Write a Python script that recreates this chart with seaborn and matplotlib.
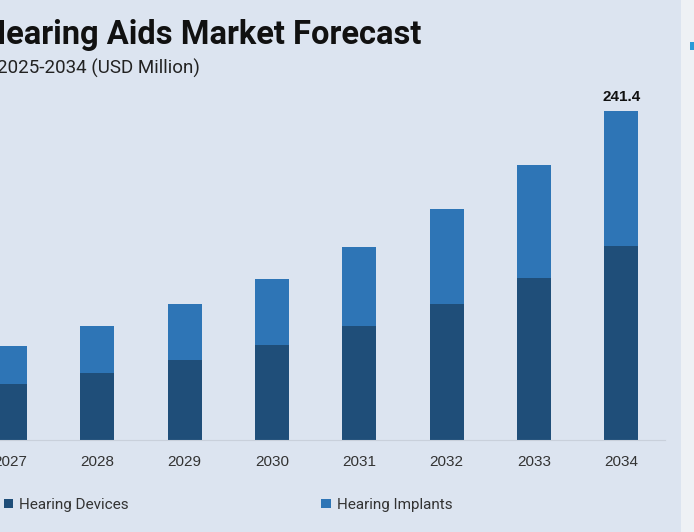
import matplotlib.pyplot as plt
import pandas as pd
import seaborn as sns
from matplotlib.patches import Rectangle

# Values (USD Million)
years = ['2027', '2028', '2029', '2030', '2031', '2032', '2033', '2034']
hearing_devices = [41.1, 49.2, 58.7, 69.7, 83.6, 99.8, 118.9, 142.3]
hearing_implants = [27.9, 34.4, 41.1, 48.4, 58.0, 69.7, 82.9, 99.1]

BG = '#dce4f0'
DARK = '#1f4e79'
LIGHT = '#2e75b6'

df = pd.DataFrame({'Year': years, 'Devices': hearing_devices, 'Implants': hearing_implants})
df['Total'] = df['Devices'] + df['Implants']

sns.set_theme(style='white')
plt.rcParams['font.family'] = ['Roboto', 'DejaVu Sans']

W, H = 694, 532
fig = plt.figure(figsize=(W / 100, H / 100), dpi=100, facecolor=BG)

# axes: left edge at the figure edge, baseline at y=440px
ax = fig.add_axes([0, (H - 440) / H, 665 / W, 340 / H])
ax.set_facecolor(BG)

sns.barplot(data=df, x='Year', y='Total', color=LIGHT, width=0.39, saturation=1,
            linewidth=0, edgecolor='none', label='Hearing Implants', ax=ax)
sns.barplot(data=df, x='Year', y='Devices', color=DARK, width=0.39, saturation=1,
            linewidth=0, edgecolor='none', label='Hearing Devices', ax=ax)
handles, labels = ax.get_legend_handles_labels()
if ax.get_legend() is not None:
    ax.get_legend().remove()

ax.set_xlim(-0.115, 7.5)
ax.set_ylim(0, 249.4)
ax.set_xlabel('')
ax.set_ylabel('')
ax.set_yticks([])
for s in ['top', 'right', 'left']:
    ax.spines[s].set_visible(False)
ax.spines['bottom'].set_color('#c9d0db')
ax.spines['bottom'].set_linewidth(0.8)
ax.tick_params(axis='x', length=0, pad=11, labelsize=11, labelcolor='#333333')
for t in ax.get_xticklabels():
    t.set_family(['Liberation Sans', 'DejaVu Sans'])

last = df.iloc[-1]
ax.text(len(df) - 1, last['Total'] + 5, f"{last['Total']:.1f}", ha='center', va='bottom',
        fontsize=11, fontweight='bold', color='#111111', family=['Liberation Sans'])

order = [labels.index('Hearing Devices'), labels.index('Hearing Implants')]
fig.legend([handles[i] for i in order], [labels[i] for i in order], ncol=2,
           loc='center left', bbox_to_anchor=(-0.014, (H - 505) / H), frameon=False,
           fontsize=11, handlelength=0.6, handleheight=0.6, handletextpad=0.4,
           columnspacing=12.6, labelcolor='#333333')

# title block, cut off on the left like the reference
fig.text(421 / W, 1 - 35 / H, 'Hearing Aids Market Forecast', ha='right', va='center',
         fontsize=23.5, fontweight='bold', color='#111111')
fig.text(200 / W, 1 - 68 / H, '2025-2034 (USD Million)', ha='right', va='center',
         fontsize=13.5, color='#222222')

# photo strip on the right edge
fig.patches.append(Rectangle((681 / W, 0), 13 / W, 1, transform=fig.transFigure,
                             facecolor='#eef1f5', edgecolor='none'))
fig.patches.append(Rectangle((690 / W, 1 - 50 / H), 4 / W, 8 / H, transform=fig.transFigure,
                             facecolor='#2a9bd8', edgecolor='none'))

fig.savefig('out.png', dpi=100, facecolor=BG)
